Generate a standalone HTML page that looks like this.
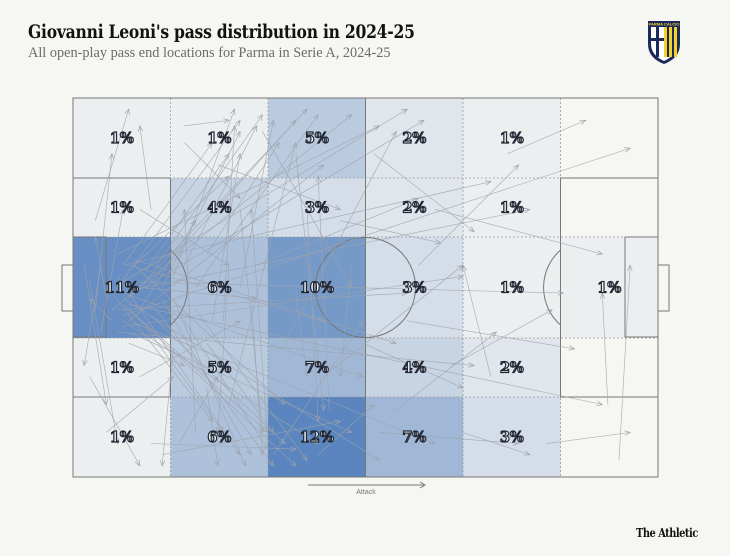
<!DOCTYPE html>
<html><head><meta charset="utf-8">
<style>
html,body{margin:0;padding:0;background:#f6f6f2;}
body{width:730px;height:556px;position:relative;overflow:hidden;font-family:"DejaVu Serif","Liberation Serif",serif;}
#title{position:absolute;left:28px;top:21px;font-size:19px;font-weight:bold;color:#121212;letter-spacing:-0.3px;transform:scaleX(0.82);transform-origin:0 0;white-space:nowrap;}
#subtitle{position:absolute;left:28px;top:45px;font-size:14.3px;color:#6b6b6b;font-family:"Liberation Serif","DejaVu Serif",serif;white-space:nowrap;}
#brand{position:absolute;left:636px;top:526px;font-size:12px;font-weight:bold;color:#121212;font-family:"DejaVu Serif",serif;letter-spacing:-0.6px;transform:scaleX(0.82);transform-origin:0 0;white-space:nowrap;}
svg{position:absolute;left:0;top:0;}
</style></head><body>
<div id="title">Giovanni Leoni's pass distribution in 2024-25</div>
<div id="subtitle">All open-play pass end locations for Parma in Serie A, 2024-25</div>
<div id="brand">The Athletic</div>
<svg id="chart" width="730" height="556">
  <g>
    <path d="M648,21 L680,21 L680,44 Q680,58 664,64 Q648,58 648,44 Z" fill="#1b2a5a"/>
    <path d="M651,27 L677,27 L677,44 Q677,55 664,61 Q651,55 651,44 Z" fill="#fff"/>
    <rect x="664" y="27" width="13" height="30" fill="#f2d12b"/>
    <rect x="667" y="27" width="2" height="30" fill="#1b2a5a"/><rect x="672" y="27" width="2" height="30" fill="#1b2a5a"/>
    <rect x="656" y="27" width="3" height="30" fill="#1b2a5a"/><rect x="651" y="38" width="13" height="3" fill="#1b2a5a"/>
    <rect x="648" y="21" width="32" height="5" fill="#1b2a5a"/>
    <text x="664" y="25.3" font-size="4" fill="#f2d12b" text-anchor="middle" font-family="Liberation Sans" font-weight="bold">PARMA CALCIO</text>
  </g>
  <g id="cells"></g>
  <g id="lines"></g>
  <g id="arrows"></g>
  <g id="labels"></g>
  <g>
    <line x1="308" y1="485" x2="424" y2="485" stroke="#777" stroke-width="1"/>
    <path d="M420,482 L425,485 L420,488" fill="none" stroke="#777"/>
    <text x="366" y="494" font-size="7" fill="#777" text-anchor="middle" font-family="Liberation Sans">Attack</text>
  </g>
</svg>
<script>
const rows = ["r0","r1","r2","r3","r4"];
const cols = ["c0","c1","c2","c3","c4","c5"];
const shares = [
  [1,1,5,2,1,null],
  [1,4,3,2,1,null],
  [11,6,10,3,1,1],
  [1,5,7,4,2,null],
  [1,6,12,7,3,null]
];
// passes in pitch units: x 0-105 (attack right), y 0-68 (top to bottom): [x1,y1,x2,y2]
const passes = [
 [8,34,30,4],[9,30,25,8],[10,36,42,2],[7,38,50,3],[9,33,60,2],[10,40,45,12],[8,28,55,5],[11,35,63,4],
 [9,37,35,60],[8,32,30,64],[10,38,40,66],[9,40,44,62],[7,35,25,58],[11,30,38,55],[10,42,50,60],[9,36,55,65],
 [12,34,33,36],[10,30,45,40],[8,38,60,35],[9,41,70,32],[11,33,88,35],[10,37,95,55],[8,35,82,20],[9,39,100,9],
 [10,31,28,14],[12,38,22,22],[10,44,20,48],[9,35,52,50],[11,29,58,44],[8,42,72,48],[9,30,75,15],[10,40,65,62],
 [6,36,4,25],[5,30,2,48],[7,40,3,36],[4,22,10,2],[3,50,12,66],[6,60,18,50],[14,62,40,63],[16,64,48,58],
 [20,5,28,4],[22,60,20,20],[25,40,30,10],[30,20,34,60],[28,55,40,8],[35,62,32,20],[40,10,45,56],[33,30,62,18],
 [45,50,70,30],[55,60,80,62],[60,40,90,45],[65,20,95,28],[85,62,100,60],[98,65,100,30],[96,55,95,35],[75,50,70,30],
 [18,45,16,66],[24,52,26,66],[14,20,12,5],[40,35,42,50],[50,30,48,50],[38,44,58,6],[26,12,48,20],[44,64,54,55],
 [15,30,34,3],[15,38,36,66],[16,34,30,6],[16,36,32,64],[14,33,40,4],[14,39,38,62],[13,31,28,10],[13,41,27,60],
 [20,30,33,5],[20,40,35,63],[22,34,44,3],[22,38,42,65],[18,32,29,2],[18,36,31,66],[24,28,37,8],[24,44,36,60],
 [3,33,8,62],[4,38,7,10],[2,30,6,55],[5,42,9,20],[30,34,36,4],[32,36,34,64],[28,30,26,60],[27,40,29,5],
 [12,50,30,40],[12,20,28,30],[19,62,26,50],[20,8,30,18],[34,6,50,34],[36,64,52,40],[42,20,44,58],[46,56,44,14],
 [54,10,72,24],[58,56,76,42],[62,30,80,12],[68,48,86,38],[70,60,82,64],[48,22,66,26],[52,44,70,52],[78,10,92,4]
];
const X0=73,X1=658,Y0=98,Y1=477;
const colEdges=[0,97.5,195,292.5,390,487.5,585];
const rowEdges=[0,80,139,240,299,379];
const sx=v=>X0+v/105*(X1-X0), sy=v=>Y0+v/68*(Y1-Y0);
const NS="http://www.w3.org/2000/svg";
function mk(tag,attrs,parent){const e=document.createElementNS(NS,tag);for(const k in attrs)e.setAttribute(k,attrs[k]);parent.appendChild(e);return e;}
function col(v){if(v===null)return "#f6f6f3";const t=Math.min(v/12,1);const a=[246,246,243],b=[90,133,191];return "rgb("+a.map((c,i)=>Math.round(c+(b[i]-c)*Math.pow(t,1.1))).join(",")+")";}
const gC=document.getElementById('cells'),gL=document.getElementById('labels'),gA=document.getElementById('arrows'),gLn=document.getElementById('lines');
mk('rect',{x:X0,y:Y0,width:X1-X0,height:Y1-Y0,fill:"#f6f6f3"},gC);
shares.forEach((r,i)=>r.forEach((v,j)=>{
  const x=X0+colEdges[j],y=Y0+rowEdges[i],w=colEdges[j+1]-colEdges[j],h=rowEdges[i+1]-rowEdges[i];
  const c=mk('rect',{x:x,y:y,width:w,height:h,fill:col(v)},gC);
  
  
  if(v!==null){
    const t=mk('text',{x:x+w/2,y:y+h/2+5,"text-anchor":"middle","font-size":"14.5","font-weight":"bold","font-family":"DejaVu Serif, serif",fill:"#eef0f2",stroke:"#222733","stroke-width":"1.2"},gL);
    t.textContent=v+"%";
    
    
  }
}));
colEdges.slice(1,-1).forEach(c=>mk('line',{x1:X0+c,y1:Y0,x2:X0+c,y2:Y1,stroke:"#999","stroke-width":"0.8","stroke-dasharray":"2,2"},gLn));
rowEdges.slice(1,-1).forEach(r=>mk('line',{x1:X0,y1:Y0+r,x2:X1,y2:Y0+r,stroke:"#999","stroke-width":"0.8","stroke-dasharray":"2,2"},gLn));
const st={stroke:"#777",fill:"none","stroke-width":"1"};
mk('rect',Object.assign({x:X0,y:Y0,width:X1-X0,height:Y1-Y0},st),gLn);
mk('line',Object.assign({x1:365.5,y1:Y0,x2:365.5,y2:Y1},st),gLn);
mk('circle',Object.assign({cx:365.5,cy:287.5,r:50},st),gLn);
mk('rect',Object.assign({x:X0,y:178,width:97.5,height:219},st),gLn);
mk('rect',Object.assign({x:560.5,y:178,width:97.5,height:219},st),gLn);
mk('rect',Object.assign({x:X0,y:237,width:33,height:100},st),gLn);
mk('rect',Object.assign({x:625,y:237,width:33,height:100},st),gLn);
mk('rect',Object.assign({x:62,y:265,width:11,height:46},st),gLn);
mk('rect',Object.assign({x:658,y:265,width:11,height:46},st),gLn);
mk('path',Object.assign({d:"M560.5,250 A50,50 0 0 0 560.5,325"},st),gLn);
mk('path',Object.assign({d:"M170.5,250 A50,50 0 0 1 170.5,325"},st),gLn);
passes.forEach((p,k)=>{
  const x1=sx(p[0]),y1=sy(p[1]),x2=sx(p[2]),y2=sy(p[3]);
  const g=mk('g',{},gA);
  
  
  mk('line',{x1:x1,y1:y1,x2:x2,y2:y2,stroke:"#9ea3ab","stroke-width":"0.7","stroke-opacity":"0.8"},g);
  const a=Math.atan2(y2-y1,x2-x1),L=6;
  const d="M"+(x2-L*Math.cos(a-0.4))+","+(y2-L*Math.sin(a-0.4))+" L"+x2+","+y2+" L"+(x2-L*Math.cos(a+0.4))+","+(y2-L*Math.sin(a+0.4));
  mk('path',{d:d,fill:"none",stroke:"#9ea3ab","stroke-width":"0.7"},g);
});
</script>
</body></html>
